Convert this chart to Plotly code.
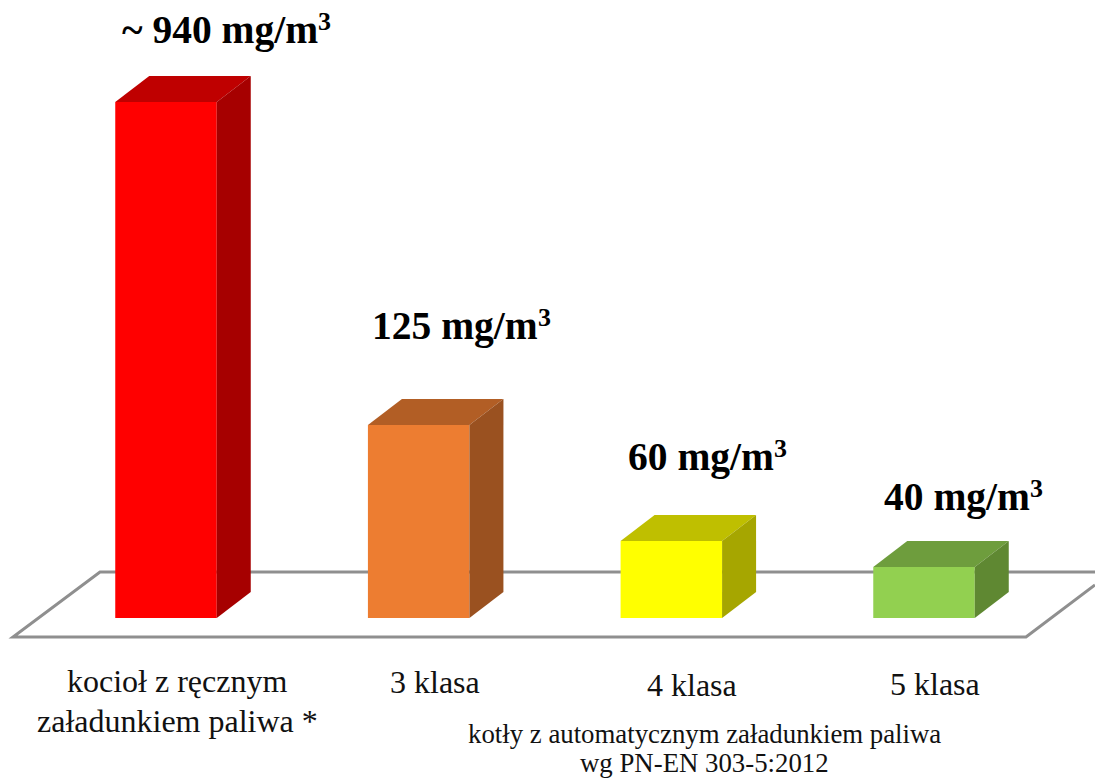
import plotly.graph_objects as go

categories = ["kocioł z ręcznym<br>załadunkiem paliwa *", "3 klasa", "4 klasa", "5 klasa"]
value_labels = ["~ 940 mg/m", "125 mg/m", "60 mg/m", "40 mg/m"]
value_unit_power = "3"
# Drawn bar heights (the picture is not to scale with the printed values)
bar_heights = [516, 193, 77, 51]
front_colors = ["#FF0000", "#ED7D31", "#FFFF00", "#92D050"]
top_colors = ["#BF0000", "#B25E25", "#BFBF00", "#6E9D3D"]
side_colors = ["#A60000", "#9A5120", "#A6A600", "#5F8832"]
footnote = "kotły z automatycznym załadunkiem paliwa<br>wg PN-EN 303-5:2012"

STEP = 252.67          # pixels per category
X0 = 166.0             # pixel centre of first category
BASE = 618             # pixel row of y = 0
W, H = 1095, 779
BAR_W = 101.5 / STEP
DX = 34 / STEP
DY = 26
xpos = list(range(len(bar_heights)))
px = lambda p: (p - X0) / STEP   # pixel column -> x axis
py = lambda p: BASE - p          # pixel row -> y axis

fig = go.Figure()
fig.add_trace(go.Bar(x=xpos, y=bar_heights, width=BAR_W,
                     marker=dict(color=front_colors, line=dict(width=0)),
                     hoverinfo="skip", showlegend=False))
for x, h, tc, sc in zip(xpos, bar_heights, top_colors, side_colors):
    l, r = x - BAR_W / 2, x + BAR_W / 2
    fig.add_trace(go.Scatter(x=[l, r, r + DX, l + DX, l], y=[h, h, h + DY, h + DY, h],
                             mode="lines", fill="toself", fillcolor=tc, line=dict(width=0),
                             hoverinfo="skip", showlegend=False))
    fig.add_trace(go.Scatter(x=[r, r + DX, r + DX, r, r], y=[0, DY, h + DY, h, 0],
                             mode="lines", fill="toself", fillcolor=sc, line=dict(width=0),
                             hoverinfo="skip", showlegend=False))

# Floor outline, behind the bars
floor_x = [1095, 100, 13, 1026, 1095]
floor_y = [572, 572, 637, 637, 585]
path = "M " + " L ".join(f"{px(a):.4f},{py(b)}" for a, b in zip(floor_x, floor_y))
fig.add_shape(type="path", path=path, layer="below", line=dict(color="#8F8F8F", width=3))

serif = "Liberation Serif"
label_px = [(332, 30), (552, 326), (788, 457), (1044, 497)]
for t, (a, b) in zip(value_labels, label_px):
    fig.add_annotation(x=px(a - 12), y=py(b), text=f"<b>{t}</b>", showarrow=False, xanchor="right",
                       font=dict(family=serif, size=39.5, color="#000000"))
    fig.add_annotation(x=px(a + 1), y=py(b - 9), text=f"<b>{value_unit_power}</b>", showarrow=False,
                       xanchor="right", font=dict(family=serif, size=26, color="#000000"))

cat_px = [(177, [681, 721]), (434.5, [682]), (691.5, [685]), (934.5, [684])]
for t, (a, rows) in zip(categories, cat_px):
    for line, b in zip(t.split("<br>"), rows):
        fig.add_annotation(x=px(a), y=py(b), text=line, showarrow=False,
                           font=dict(family=serif, size=32, color="#111111"))
for line, b in zip(footnote.split("<br>"), [734, 763]):
    fig.add_annotation(x=px(704.5), y=py(b), text=line, showarrow=False,
                       font=dict(family=serif, size=26.8, color="#111111"))

fig.update_layout(width=W, height=H, margin=dict(l=0, r=0, t=0, b=0),
                  paper_bgcolor="white", plot_bgcolor="white", showlegend=False,
                  xaxis=dict(visible=False, range=[px(0), px(W)]),
                  yaxis=dict(visible=False, range=[py(H), py(0)]))
fig.write_html("out.html", config=dict(displayModeBar=False),
               post_script="document.body.style.margin='0';")
